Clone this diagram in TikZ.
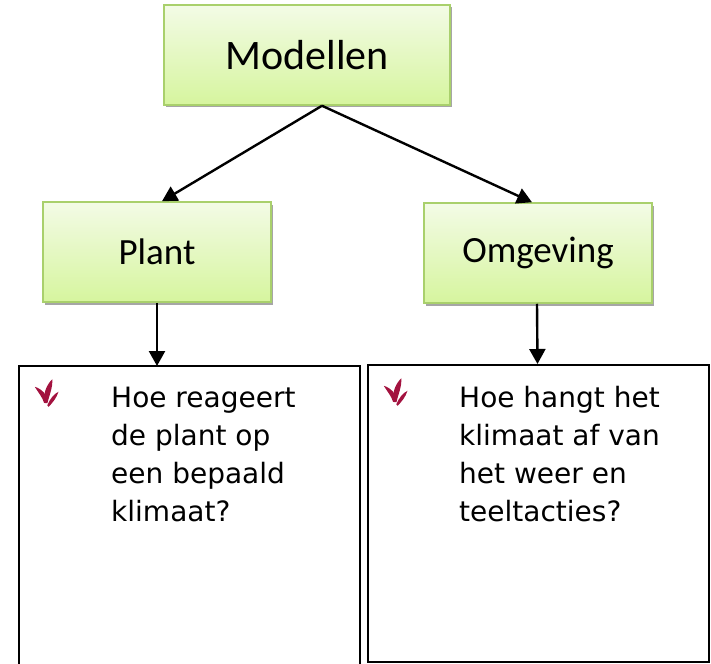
\documentclass[tikz,border=0pt]{standalone}
\usepackage{fontspec}
\setmainfont{DejaVu Sans}
\newfontfamily\calib{Carlito}
\usetikzlibrary{arrows.meta,shadows}
\definecolor{boxtop}{HTML}{F3FBE6}
\definecolor{boxbot}{HTML}{D6F59E}
\definecolor{boxedge}{HTML}{A9D06C}
\definecolor{leafred}{HTML}{A3123F}
\tikzset{
  greenbox/.style={draw=boxedge, line width=1.5pt, top color=boxtop, bottom color=boxbot,
    drop shadow={shadow xshift=1.5pt, shadow yshift=-2.5pt, opacity=0.35, fill=black},
    minimum width=#1, minimum height=100pt, inner sep=0pt, font=\calib\fontsize{37}{42}\selectfont},
  arr/.style={line width=2.4pt, -{Triangle[length=15pt,width=16pt]}},
  qtext/.style={anchor=north west, inner sep=0pt, align=left, font=\fontsize{28}{38}\selectfont},
  leaf/.style={fill=leafred, draw=none}
}
\begin{document}
\begin{tikzpicture}[x=1pt,y=-1pt]
\useasboundingbox (0,0) rectangle (711,663);
% boxes
\node[greenbox=286pt, font=\calib\fontsize{42}{48}\selectfont] (mod) at (307,55) {Modellen};
\node[greenbox=228pt] (plant) at (157,252) {Plant};
\node[greenbox=228pt] (omg) at (538,253) {Omgeving};
% text boxes
\coordinate (lt) at (157,366);
\draw[line width=1.2pt] (19,670) -- (19,366) -- (360,366) -- (360,670);
\node[draw, line width=2pt, minimum width=341pt, minimum height=297pt, inner sep=0pt, anchor=north west] (rbox) at (367,364) {};
% arrows
\draw[arr] ([xshift=15pt]mod.south) -- ([xshift=5pt]plant.north);
\draw[arr] ([xshift=15pt]mod.south) -- ([xshift=-6pt]omg.north);
\draw[arr] (plant.south) -- (lt);
\draw[arr] ([xshift=-1pt]omg.south) -- ([xshift=-1pt]rbox.north);
% bullets
\foreach \bx/\by in {46/403, 395/402}{
  \begin{scope}[shift={(\bx,\by)}, scale=1.25]
    \path[leaf] (-1.5,0) .. controls (-3,-5) and (-6,-8) .. (-9,-13) .. controls (-3,-11) and (1,-7) .. (1,-1) -- cycle;
    \path[leaf] (-1,0) .. controls (-2.5,-7) and (0,-14) .. (5,-19) .. controls (5.5,-12) and (2.5,-6) .. (1.2,0) -- cycle;
    \path[leaf] (1,2) .. controls (3,-3) and (6,-7) .. (10,-9) .. controls (8.5,-4) and (5,0) .. (2.2,3) -- cycle;
  \end{scope}
}
% texts
\node[qtext] (q1) at (111,387) {Hoe reageert\\de plant op\\een bepaald\\klimaat?};
\node[qtext] (q2) at (459,386) {Hoe hangt het\\klimaat af van\\het weer en\\teeltacties?};
\end{tikzpicture}
\end{document}
